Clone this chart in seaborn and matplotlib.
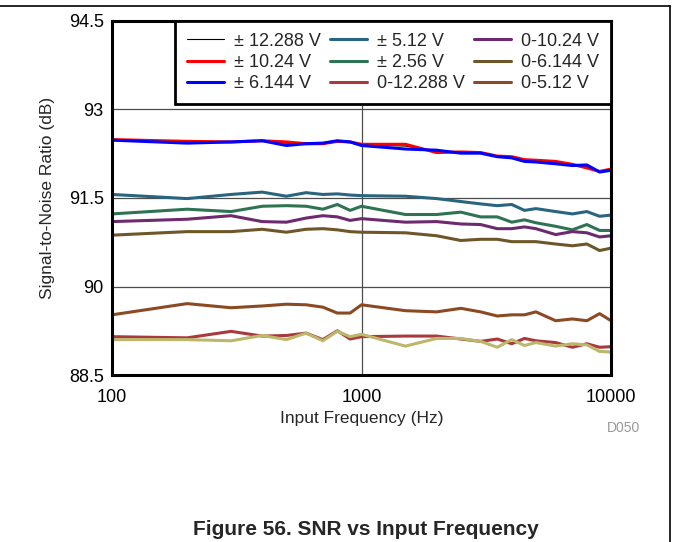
import matplotlib
matplotlib.use("Agg")
import matplotlib.pyplot as plt
from matplotlib.lines import Line2D
import seaborn as sns
import pandas as pd

# 输入频率 (Hz)
freq = [100, 200, 300, 400, 500, 600, 700, 800, 900, 1000, 1500, 2000, 2500,
        3000, 3500, 4000, 4500, 5000, 6000, 7000, 8000, 9000, 10000]

# 各量程的 SNR (dB)
snr_pm12288 = [92.48, 92.45, 92.45, 92.47, 92.43, 92.42, 92.43, 92.46, 92.45, 92.40, 92.38, 92.29,
               92.27, 92.26, 92.21, 92.19, 92.14, 92.12, 92.10, 92.06, 92.03, 91.95, 91.98]
snr_pm1024 = [92.49, 92.46, 92.45, 92.47, 92.45, 92.42, 92.42, 92.46, 92.45, 92.41, 92.41, 92.27,
              92.28, 92.27, 92.21, 92.20, 92.15, 92.14, 92.12, 92.07, 92.01, 91.95, 91.99]
snr_pm6144 = [92.48, 92.43, 92.45, 92.47, 92.39, 92.42, 92.43, 92.47, 92.45, 92.39, 92.33, 92.31,
              92.26, 92.26, 92.20, 92.18, 92.12, 92.11, 92.08, 92.05, 92.06, 91.94, 91.97]
snr_pm512 = [91.56, 91.49, 91.56, 91.60, 91.53, 91.59, 91.56, 91.57, 91.55, 91.54, 91.53, 91.49,
             91.44, 91.40, 91.37, 91.39, 91.29, 91.32, 91.27, 91.23, 91.27, 91.19, 91.21]
snr_pm256 = [91.23, 91.31, 91.27, 91.36, 91.37, 91.36, 91.31, 91.39, 91.29, 91.36, 91.22, 91.22,
             91.26, 91.18, 91.18, 91.09, 91.13, 91.08, 91.02, 90.96, 91.05, 90.95, 90.95]
snr_0_12288 = [89.15, 89.13, 89.24, 89.16, 89.17, 89.21, 89.10, 89.25, 89.11, 89.15, 89.16, 89.16,
               89.11, 89.07, 89.11, 89.03, 89.12, 89.08, 89.05, 88.97, 89.03, 88.97, 88.98]
snr_0_1024 = [91.10, 91.14, 91.20, 91.10, 91.09, 91.16, 91.20, 91.18, 91.12, 91.15, 91.09, 91.10,
              91.06, 91.05, 90.98, 90.98, 91.01, 90.98, 90.88, 90.93, 90.91, 90.84, 90.86]
snr_0_6144 = [90.87, 90.93, 90.93, 90.97, 90.92, 90.97, 90.98, 90.96, 90.93, 90.92, 90.91, 90.86,
              90.78, 90.80, 90.80, 90.76, 90.76, 90.76, 90.72, 90.69, 90.72, 90.61, 90.65]
snr_0_512 = [89.52, 89.71, 89.64, 89.67, 89.70, 89.69, 89.65, 89.55, 89.55, 89.69, 89.59, 89.57,
             89.63, 89.57, 89.50, 89.52, 89.52, 89.57, 89.42, 89.45, 89.42, 89.54, 89.42]
snr_extra = [89.10, 89.10, 89.08, 89.17, 89.10, 89.21, 89.08, 89.24, 89.15, 89.19, 88.99, 89.12,
             89.12, 89.07, 88.97, 89.10, 89.00, 89.05, 88.99, 89.03, 89.01, 88.90, 88.89]

# (标签, 数据, 颜色, 线宽)
series = [
    ("± 12.288 V", snr_pm12288, "#000000", 0.8),
    ("± 10.24 V", snr_pm1024, "#FF0000", 2.2),
    ("± 6.144 V", snr_pm6144, "#0000FF", 2.2),
    ("± 5.12 V", snr_pm512, "#2A6580", 2.2),
    ("± 2.56 V", snr_pm256, "#2E7353", 2.2),
    ("0-12.288 V", snr_0_12288, "#A83A3E", 2.2),
    ("0-10.24 V", snr_0_1024, "#6E2A6E", 2.2),
    ("0-6.144 V", snr_0_6144, "#6E5628", 2.2),
    ("0-5.12 V", snr_0_512, "#8B4A22", 2.2),
    ("_nolegend_", snr_extra, "#BDB76B", 2.2),
]

yticks = [88.5, 90, 91.5, 93, 94.5]
ytick_labels = ["88.5", "90", "91.5", "93", "94.5"]
xticks = [100, 1000, 10000]
xtick_labels = ["100", "1000", "10000"]

sns.set_theme(style="white")
plt.rcParams["font.family"] = ["Liberation Sans", "DejaVu Sans"]

fig = plt.figure(figsize=(6.73, 5.42), dpi=100)
ax = fig.add_axes([0.1664, 0.3081, 0.7415, 0.6532])

for label, vals, color, lw in series:
    df = pd.DataFrame({"freq": freq, "snr": vals})
    sns.lineplot(data=df, x="freq", y="snr", color=color, linewidth=lw,
                 label=label, ax=ax, legend=False)

ax.set_xscale("log")
ax.set_xlim(100, 10000)
ax.set_ylim(88.5, 94.5)
ax.set_xticks(xticks)
ax.set_xticklabels(xtick_labels, fontsize=13)
ax.minorticks_off()
ax.set_yticks(yticks)
ax.set_yticklabels(ytick_labels, fontsize=13)
ax.tick_params(axis="x", length=0, pad=10, colors="black")
ax.tick_params(axis="y", length=0, pad=6, colors="black")
ax.grid(True, which="major", color="0.3", linewidth=0.9)
for s in ax.spines.values():
    s.set_visible(True)
    s.set_color("black")
    s.set_linewidth(2.2)

ax.set_xlabel("Input Frequency (Hz)", fontsize=12.5, labelpad=4)
ax.set_ylabel("Signal-to-Noise Ratio (dB)", fontsize=12.5, labelpad=10)

handles, labels = ax.get_legend_handles_labels()
leg = ax.legend(handles, labels, ncol=3, mode="expand", loc="upper left",
                bbox_to_anchor=(0.126, 0.763, 0.874, 0.237), borderaxespad=0,
                fontsize=13, frameon=True, fancybox=False, framealpha=1,
                handlelength=2.05, handletextpad=0.55, labelspacing=0.23,
                columnspacing=0.5, borderpad=0.65)
leg.get_frame().set_edgecolor("black")
leg.get_frame().set_linewidth(2.0)

fig.text(0.926, 0.211, "D050", fontsize=10, color="0.6", ha="center", va="center")
fig.text(0.543, 0.023, "Figure 56. SNR vs Input Frequency", fontsize=15,
         fontweight="bold", ha="center", va="center")

# 页面边框线
fig.add_artist(Line2D([0, 0.996], [0.989, 0.989], color="black", lw=1.2,
                      transform=fig.transFigure))
fig.add_artist(Line2D([0.996, 0.996], [0, 0.989], color="black", lw=1.2,
                      transform=fig.transFigure))

fig.savefig("out.png", dpi=100)
